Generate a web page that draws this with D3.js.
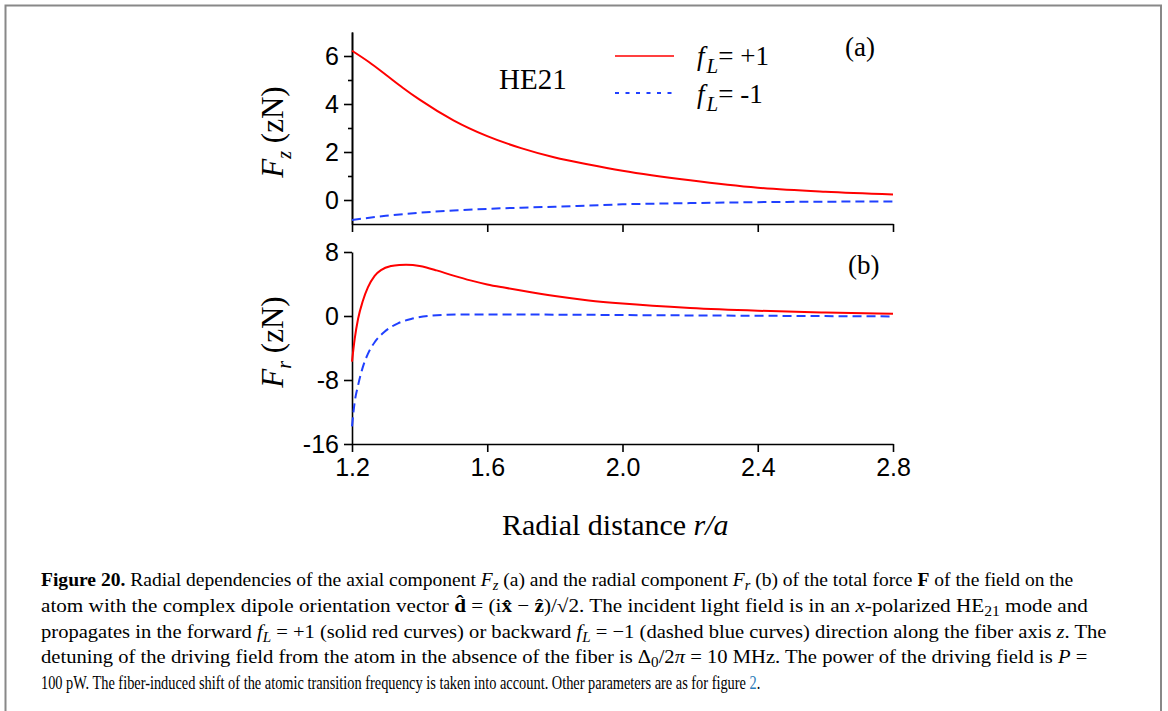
<!DOCTYPE html>
<html>
<head>
<meta charset="utf-8">
<script src="https://cdn.jsdelivr.net/npm/d3@7"></script>
<style>
  body { margin: 0; background: #fff; }
  svg { display: block; }
</style>
</head>
<body>
<svg id="fig" width="1168" height="711"></svg>
<script>
// panel (a) : axial force Fz
var rz_plus  = [1.20, 1.25, 1.30, 1.35, 1.40, 1.50, 1.60, 1.70, 1.80, 1.90, 2.00, 2.20, 2.40, 2.60, 2.80];
var fz_plus  = [6.22, 5.75, 5.22, 4.68, 4.18, 3.32, 2.66, 2.16, 1.77, 1.48, 1.22, 0.82, 0.51, 0.34, 0.23];
var rz_minus = [1.20, 1.30, 1.40, 1.50, 1.60, 1.70, 1.80, 1.90, 2.00, 2.20, 2.40, 2.60, 2.80];
var fz_minus = [-0.83, -0.66, -0.53, -0.44, -0.37, -0.32, -0.28, -0.23, -0.18, -0.13, -0.09, -0.07, -0.06];

// panel (b) : radial force Fr
var rr_plus  = [1.200, 1.208, 1.218, 1.232, 1.247, 1.267, 1.287, 1.316, 1.340, 1.360, 1.380, 1.400, 1.420,
                1.450, 1.500, 1.550, 1.600, 1.650, 1.700, 1.800, 1.900, 2.000, 2.200, 2.400, 2.600, 2.800];
var fr_plus  = [-5.7, -2.86, -0.35, 1.88, 3.57, 5.02, 5.77, 6.25, 6.39, 6.42, 6.37, 6.25, 6.06,
                5.70, 5.05, 4.45, 3.95, 3.55, 3.18, 2.50, 1.95, 1.55, 1.0, 0.66, 0.44, 0.29];
var rr_minus = [1.200, 1.208, 1.218, 1.232, 1.247, 1.267, 1.297, 1.336, 1.375, 1.434, 1.514, 1.600, 1.800,
                2.000, 2.400, 2.800];
var fr_minus = [-13.8, -10.75, -8.67, -6.39, -4.73, -3.28, -1.95, -0.91, -0.37, 0.04, 0.19, 0.2, 0.17,
                0.12, 0.03, -0.05];

var x_ticks = [1.2, 1.6, 2.0, 2.4, 2.8];
var ya_ticks = [0, 2, 4, 6];
var ya_minor = [1, 3, 5];
var yb_ticks = [-16, -8, 0, 8];

var red = "#ff0000";
var blue = "#2040ff";

var svg = d3.select("#fig");

// frame round the figure
svg.append("path")
  .attr("d", "M5.5,720 V5.5 H1161 V720")
  .attr("fill", "none")
  .attr("stroke", "#888")
  .attr("stroke-width", 2);

var x = d3.scaleLinear().domain([1.2, 2.8]).range([352, 893]);
var ya = d3.scaleLinear().domain([-1, 7]).range([224, 32]);
var yb = d3.scaleLinear().domain([-16, 8]).range([444, 252]);

function style_axis(g)
{
  g.selectAll("path, line").attr("stroke", "#000").attr("stroke-width", 1.6);
  g.selectAll("text")
    .attr("fill", "#000")
    .style("font-family", "'Liberation Sans', Arial, sans-serif")
    .style("font-size", "25px");
}

function plain(d) { return String(d); }

// panel a axes
var ga = svg.append("g").attr("transform", "translate(352,0)")
  .call(d3.axisLeft(ya).tickValues(ya_ticks).tickSize(8).tickSizeOuter(0).tickPadding(5).tickFormat(plain));
style_axis(ga);
var gam = svg.append("g").attr("transform", "translate(352,0)")
  .call(d3.axisLeft(ya).tickValues(ya_minor).tickSize(4).tickSizeOuter(0).tickFormat(""));
style_axis(gam);
var gax = svg.append("g").attr("transform", "translate(0,224)")
  .call(d3.axisBottom(x).tickValues(x_ticks).tickSize(8).tickSizeOuter(0).tickFormat(""));
style_axis(gax);

// panel b axes
var gb = svg.append("g").attr("transform", "translate(352,0)")
  .call(d3.axisLeft(yb).tickValues(yb_ticks).tickSize(8).tickSizeOuter(0).tickPadding(5).tickFormat(plain));
style_axis(gb);
var gbx = svg.append("g").attr("transform", "translate(0,444)")
  .call(d3.axisBottom(x).tickValues(x_ticks).tickSize(8).tickSizeOuter(0).tickPadding(6).tickFormat(d3.format(".1f")));
style_axis(gbx);

// curves
function draw_curve(xs, ys, yscale, color, dash)
{
  var pts = xs.map(function(d, i) { return [d, ys[i]]; });
  var line = d3.line()
    .x(function(d) { return x(d[0]); })
    .y(function(d) { return yscale(d[1]); })
    .curve(d3.curveMonotoneX);
  svg.append("path")
    .datum(pts)
    .attr("d", line)
    .attr("fill", "none")
    .attr("stroke", color)
    .attr("stroke-width", 2)
    .attr("stroke-dasharray", dash);
}

draw_curve(rz_minus, fz_minus, ya, blue, "9,5");
draw_curve(rz_plus, fz_plus, ya, red, null);
draw_curve(rr_minus, fr_minus, yb, blue, "9,5");
draw_curve(rr_plus, fr_plus, yb, red, null);

var serif = "'Liberation Serif', 'Times New Roman', serif";

function label(xp, yp, txt, size)
{
  return svg.append("text").attr("x", xp).attr("y", yp)
    .style("font-family", serif).style("font-size", size + "px")
    .attr("fill", "#000").text(txt);
}

label(499, 89, "HE21", 29);
label(845, 56, "(a)", 27);
label(848, 274, "(b)", 27);

// legend
svg.append("line").attr("x1", 615).attr("x2", 674).attr("y1", 56).attr("y2", 56)
  .attr("stroke", red).attr("stroke-width", 1.6);
svg.append("line").attr("x1", 615).attr("x2", 674).attr("y1", 93).attr("y2", 93)
  .attr("stroke", blue).attr("stroke-width", 2).attr("stroke-dasharray", "4,6.5");

function legend_text(yp, val)
{
  var t = svg.append("text").attr("x", 697).attr("y", yp)
    .style("font-family", serif).style("font-size", "27px").attr("fill", "#000");
  t.append("tspan").style("font-style", "italic").text("f");
  t.append("tspan").style("font-style", "italic").style("font-size", "21px").attr("dy", 8).attr("dx", 2).text("L");
  t.append("tspan").attr("dy", -8).text("= " + val);
}
legend_text(65, "+1");
legend_text(103, "-1");

// y axis titles
function y_title(cx, cy, sub)
{
  var t = svg.append("text")
    .attr("transform", "translate(" + cx + "," + cy + ") rotate(-90)")
    .attr("text-anchor", "middle")
    .style("font-family", serif).style("font-size", "31px").attr("fill", "#000");
  t.append("tspan").style("font-style", "italic").text("F");
  t.append("tspan").style("font-style", "italic").style("font-size", "20px").attr("dy", 8).text(sub);
  t.append("tspan").attr("dy", -8).text(" (zN)");
}
y_title(283, 132, "z");
y_title(283, 342, "r");

// x axis title
var xt = svg.append("text").attr("x", 502).attr("y", 535)
  .style("font-family", serif).style("font-size", "30px").attr("fill", "#000");
xt.append("tspan").text("Radial distance ");
xt.append("tspan").style("font-style", "italic").text("r/a");

// caption
var cap_lines = [
  [["Figure 20.", "b"], [" Radial dependencies of the axial component ", ""], ["F", "i"], ["z", "isub"],
   [" (a) and the radial component ", ""], ["F", "i"], ["r", "isub"], [" (b) of the total force ", ""], ["F", "b"],
   [" of the field on the", ""]],
  [["atom with the complex dipole orientation vector ", ""], ["d\u0302", "b"], [" = (i", ""], ["x\u0302", "b"],
   [" \u2212 ", ""], ["z\u0302", "b"], [")/\u221a2. The incident light field is in an ", ""], ["x", "i"],
   ["-polarized HE", ""], ["21", "sub"], [" mode and", ""]],
  [["propagates in the forward ", ""], ["f", "i"], ["L", "isub"], [" = +1 (solid red curves) or backward ", ""],
   ["f", "i"], ["L", "isub"], [" = \u22121 (dashed blue curves) direction along the fiber axis ", ""], ["z", "i"],
   [". The", ""]],
  [["detuning of the driving field from the atom in the absence of the fiber is \u0394", ""], ["0", "sub"],
   ["/2", ""], ["\u03c0", "i"], [" = 10 MHz. The power of the driving field is ", ""], ["P", "i"], [" =", ""]],
  [["100 pW. The fiber-induced shift of the atomic transition frequency is taken into account. Other parameters are as for figure ", ""],
   ["2", "link"], [".", ""]]
];
var cap_right = [1074, 1088, 1107, 1088, 761];
var cap_base = [586, 612, 638, 663, 689];
var cap_left = 41;

cap_lines.forEach(function(segs, li)
{
  var g = svg.append("g");
  var t = g.append("text").attr("x", 0).attr("y", 0)
    .style("font-family", serif).style("font-size", "19px").attr("fill", "#000");
  var shift = 0;
  segs.forEach(function(s)
  {
    var sp = t.append("tspan").text(s[0]);
    var want = (s[1] === "sub" || s[1] === "isub") ? 4 : 0;
    if (want !== shift) { sp.attr("dy", want - shift); shift = want; }
    if (s[1] === "b") sp.style("font-weight", "bold");
    if (s[1] === "i" || s[1] === "isub") sp.style("font-style", "italic");
    if (s[1] === "sub" || s[1] === "isub") sp.style("font-size", "14px");
    if (s[1] === "link") sp.attr("fill", "#2a7ab8");
  });
  // squeeze each line to the width it has in the figure
  var sx = (cap_right[li] - cap_left) / t.node().getComputedTextLength();
  g.attr("transform", "translate(" + cap_left + "," + cap_base[li] + ") scale(" + sx + ",1)");
});
</script>
</body>
</html>
